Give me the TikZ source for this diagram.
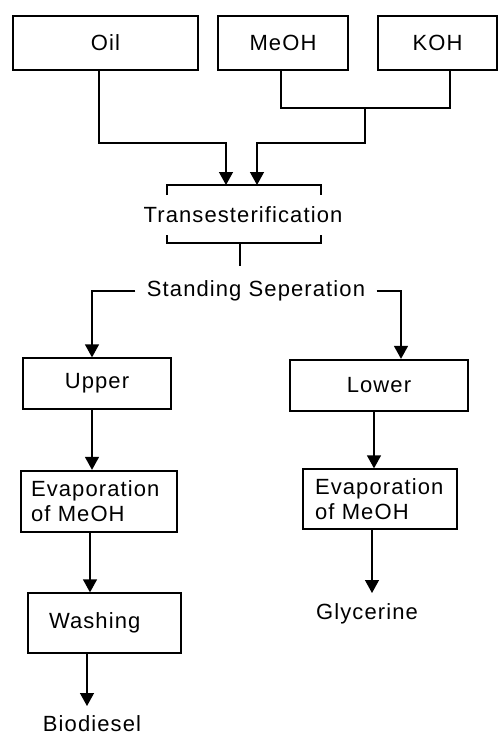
\documentclass[tikz,border=0pt]{standalone}
\usepackage{fontspec}
\setmainfont{Liberation Sans}[LetterSpace=5]
\usetikzlibrary{arrows.meta}
\begin{document}
\begin{tikzpicture}[x=1pt,y=-1pt,
  font=\fontsize{22}{25}\selectfont,
  line width=1.3pt,
  box/.style={draw, line width=1.3pt, inner sep=0pt, align=center},
  thickbox/.style={box, line width=2.3pt},
  arr/.style={-{Triangle[length=13pt,width=14pt]}},
  lab/.style={inner sep=0pt}]
\useasboundingbox (0,0) rectangle (499,736);
% top boxes
\node[box, minimum width=185pt, minimum height=54pt] (oil) at (105.5,43) {Oil};
\node[box, minimum width=130pt, minimum height=54pt] (meoh) at (283,43) {MeOH};
\node[box, minimum width=119pt, minimum height=54pt] (koh) at (437.5,43) {KOH};
% middle
\node[lab] (trans) at (243,215) {Transesterification};
\node[lab, anchor=north, inner xsep=11pt, inner ysep=14pt] (ss) at (256,266) {Standing Seperation};
% branches
\node[box, minimum width=148pt, minimum height=51pt] (upper) at (97,383.5) {Upper};
\node[thickbox, minimum width=178pt, minimum height=51pt] (lower) at (379,385.5) {Lower};
\node[thickbox, text width=136pt, inner xsep=10pt, minimum height=61pt, align=left] (evl) at (99,501.5) {Evaporation\\of MeOH};
\node[box, text width=130pt, inner xsep=12pt, minimum height=60pt, align=left] (evr) at (380,499) {Evaporation\\of MeOH};
\node[box, text width=111pt, inner xsep=21pt, minimum height=60pt, align=left] (wash) at (104.5,623) {Washing};
\node[lab, anchor=north, inner ysep=9pt] (bio) at (92,706) {Biodiesel};
\node[lab, anchor=north, inner ysep=10pt] (gly) at (367,593) {Glycerine};
% coordinates
\coordinate (xo) at (99,0);
\coordinate (xm) at (281,0);
\coordinate (xk) at (450,0);
\coordinate (j1) at (365,108);
\coordinate (j2) at (365,143);
\coordinate (tA) at (226,185);
\coordinate (tB) at (257,185);
\coordinate (b1) at (167,195);
\coordinate (b2) at (167,185);
\coordinate (b3) at (321,185);
\coordinate (b4) at (321,195);
\coordinate (b5) at (167,235);
\coordinate (b6) at (167,243);
\coordinate (b7) at (321,243);
\coordinate (b8) at (321,235);
\coordinate (s1) at (240,243);
\coordinate (xl) at (92,0);
\coordinate (xr) at (401,0);
\coordinate (xl2) at (90,0);
\coordinate (xl3) at (87,0);
\coordinate (xr2) at (374,0);
\coordinate (xr3) at (372,0);
% connectors
\draw (meoh.south -| xm) -- (xm |- j1) -- (xk |- j1) -- (koh.south -| xk);
\draw[arr] (j1) -- (j2) -| (tB);
\draw[arr] (oil.south -| xo) |- (tA |- j2) -- (tA);
\draw (b1) -- (b2) -- (b3) -- (b4);
\draw (b5) -- (b6) -- (b7) -- (b8);
\draw (s1) -- (ss.north -| s1);
\draw[arr] (ss.west) -| (upper.north -| xl);
\draw[arr] (ss.east) -| (lower.north -| xr);
\draw[arr] (upper.south -| xl) -- (evl.north -| xl);
\draw[arr] (lower.south -| xr2) -- (evr.north -| xr2);
\draw[arr] (evl.south -| xl2) -- (wash.north -| xl2);
\draw[arr] (evr.south -| xr3) -- (gly.north -| xr3);
\draw[arr] (wash.south -| xl3) -- (bio.north -| xl3);
\end{tikzpicture}
\end{document}
